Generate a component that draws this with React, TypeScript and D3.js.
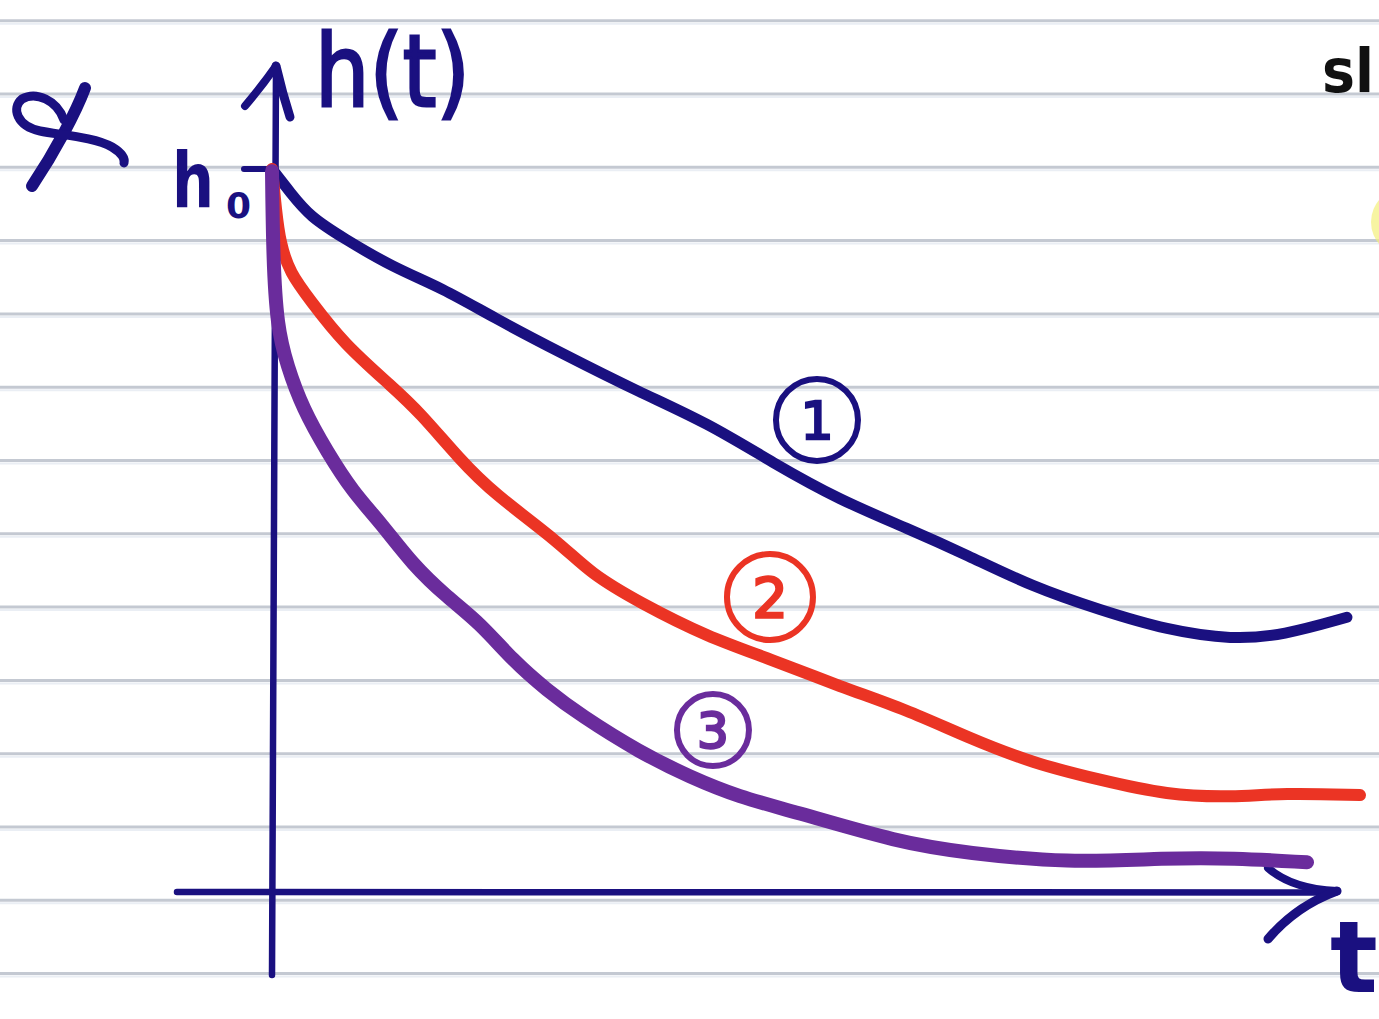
import React from "react";
import * as d3 from "d3";

// Drainage curves h(t): three outflow cases starting from the same level h0
const tCurve1 = [0, 0.17, 0.35, 0.65, 1.11, 1.57, 2.03, 2.65, 3.38, 4.0, 4.61, 5.22, 5.84, 6.39, 6.99, 7.61, 8.23, 8.83, 9.29, 9.88];
const hCurve1 = [1.0, 0.967, 0.934, 0.905, 0.864, 0.835, 0.795, 0.746, 0.691, 0.649, 0.593, 0.542, 0.503, 0.466, 0.422, 0.39, 0.362, 0.349, 0.355, 0.38];

const tCurve2 = [0, 0.037, 0.074, 0.165, 0.349, 0.653, 1.112, 1.36, 1.728, 2.031, 2.647, 2.923, 3.382, 3.998, 4.605, 5.221, 5.836, 6.388, 6.994, 7.61, 8.226, 8.833, 9.292, 10.0];
const hCurve2 = [1.0, 0.943, 0.898, 0.856, 0.819, 0.759, 0.698, 0.663, 0.598, 0.552, 0.483, 0.441, 0.4, 0.353, 0.321, 0.284, 0.252, 0.214, 0.178, 0.155, 0.134, 0.131, 0.137, 0.134];

const tCurve3 = [0, 0.01, 0.046, 0.138, 0.285, 0.506, 0.745, 0.993, 1.296, 1.608, 1.912, 2.215, 2.528, 2.831, 3.382, 3.842, 4.301, 4.761, 5.772, 6.388, 7.307, 8.226, 8.833, 9.513];
const hCurve3 = [0.997, 0.876, 0.783, 0.728, 0.668, 0.609, 0.553, 0.512, 0.452, 0.408, 0.372, 0.32, 0.279, 0.245, 0.193, 0.159, 0.131, 0.113, 0.068, 0.054, 0.04, 0.047, 0.047, 0.041];

// Circled curve numbers and where they sit (t, h)
const curveLabels = ["1", "2", "3"];
const labelT = [5.009, 4.577, 4.053];
const labelH = [0.653, 0.408, 0.224];

const W = 1379;
const H = 1019;

const NAVY = "#1a1080";
const RED = "#eb3424";
const PURPLE = "#6a2c9c";
const RULE = "#c4c9d2";

export default function App() {
  const x = d3.scaleLinear().domain([0, 10]).range([272, 1360]);
  const y = d3.scaleLinear().domain([0, 1]).range([892, 169]);

  const line = d3
    .line<[number, number]>()
    .x((d) => x(d[0]))
    .y((d) => y(d[1]))
    .curve(d3.curveBasis);

  const zip = (ts: number[], hs: number[]) => ts.map((t, i) => [t, hs[i]] as [number, number]);

  const series = [
    { pts: zip(tCurve1, hCurve1), color: NAVY, width: 11 },
    { pts: zip(tCurve2, hCurve2), color: RED, width: 12 },
    { pts: zip(tCurve3, hCurve3), color: PURPLE, width: 14 },
  ];

  const labelColors = [NAVY, RED, PURPLE];
  const labelR = [41, 43, 36];
  const labelSize = [52, 56, 50];

  // notebook ruling
  const rules = d3.range(0, 14).map((k) => 20.7 + 73.3 * k);

  const x0 = x(0);
  const yBase = y(0);
  const yTop = y(1);

  return (
    <svg
      width={W}
      height={H}
      viewBox={`0 0 ${W} ${H}`}
      style={{ position: "absolute", left: 0, top: 0, background: "#ffffff" }}
    >
      <rect x={0} y={0} width={W} height={H} fill="#ffffff" />
      {rules.map((ry, i) => (
        <g key={i}>
          <line x1={0} x2={W} y1={ry} y2={ry} stroke={RULE} strokeWidth={3} />
          <line x1={0} x2={W} y1={ry + 3} y2={ry + 3} stroke="#eaeef4" strokeWidth={2} />
        </g>
      ))}

      {/* highlighter cursor at the right edge */}
      <circle cx={1405} cy={222} r={34} fill="#f4f07a" opacity={0.7} />

      {/* handwritten mark at top left */}
      <g fill="none" stroke={NAVY} strokeLinecap="round" strokeLinejoin="round">
        <path d="M85,88 C76,112 56,150 32,186" strokeWidth={12} />
        <path
          d="M64,120 C57,100 36,91 22,99 C11,108 17,126 40,131 C60,135 95,137 112,147 C122,153 125,159 124,163"
          strokeWidth={9}
        />
      </g>

      {/* axes */}
      <g fill="none" stroke={NAVY} strokeLinecap="round" strokeLinejoin="round">
        <line x1={x0} y1={975} x2={x0 + 4} y2={66} strokeWidth={6.5} />
        <path d="M245,106 Q262,86 276,66" strokeWidth={8} />
        <path d="M276,66 Q282,92 290,117" strokeWidth={9} />
        <line x1={177} y1={yBase} x2={1336} y2={yBase + 0.5} strokeWidth={6.5} />
        <path d="M1268,868 Q1292,889 1337,891" strokeWidth={8} />
        <path d="M1337,891 Q1296,906 1268,939" strokeWidth={9} />
        {/* h0 tick */}
        <line x1={244} y1={yTop} x2={x0} y2={yTop} strokeWidth={6} />
      </g>

      {/* curves */}
      {series.map((s, i) => (
        <path
          key={i}
          d={line(s.pts) ?? ""}
          fill="none"
          stroke={s.color}
          strokeWidth={s.width}
          strokeLinecap="round"
          strokeLinejoin="round"
        />
      ))}

      {/* circled curve numbers */}
      {curveLabels.map((lab, i) => (
        <g key={lab}>
          <circle
            cx={x(labelT[i])}
            cy={y(labelH[i])}
            r={labelR[i]}
            fill="none"
            stroke={labelColors[i]}
            strokeWidth={6}
          />
          <text
            x={x(labelT[i])}
            y={y(labelH[i]) + labelSize[i] * 0.36}
            textAnchor="middle"
            fontFamily="'DejaVu Sans', sans-serif"
            fontSize={labelSize[i]}
            fill={labelColors[i]}
            stroke={labelColors[i]}
            strokeWidth={2.5}
          >
            {lab}
          </text>
        </g>
      ))}

      {/* axis labels */}
      <text
        x={315}
        y={106}
        fontFamily="'DejaVu Sans', sans-serif"
        fontSize={100}
        fill={NAVY}
        stroke={NAVY}
        strokeWidth={3}
        textLength={155}
        lengthAdjust="spacingAndGlyphs"
      >
        h(t)
      </text>
      <text
        x={172}
        y={207}
        fontFamily="'DejaVu Sans', sans-serif"
        fontWeight="bold"
        fontSize={76}
        fill={NAVY}
        textLength={42}
        lengthAdjust="spacingAndGlyphs"
      >
        h
      </text>
      <text
        x={226}
        y={218}
        fontFamily="'DejaVu Sans', sans-serif"
        fontWeight="bold"
        fontSize={36}
        fill={NAVY}
      >
        0
      </text>
      <text
        x={1330}
        y={992}
        fontFamily="'DejaVu Sans', sans-serif"
        fontWeight="bold"
        fontSize={100}
        fill={NAVY}
      >
        t
      </text>
      <text
        x={1322}
        y={92}
        fontFamily="'DejaVu Sans', sans-serif"
        fontWeight="bold"
        fontSize={60}
        fill="#111111"
        textLength={52}
        lengthAdjust="spacingAndGlyphs"
      >
        sl
      </text>
    </svg>
  );
}
